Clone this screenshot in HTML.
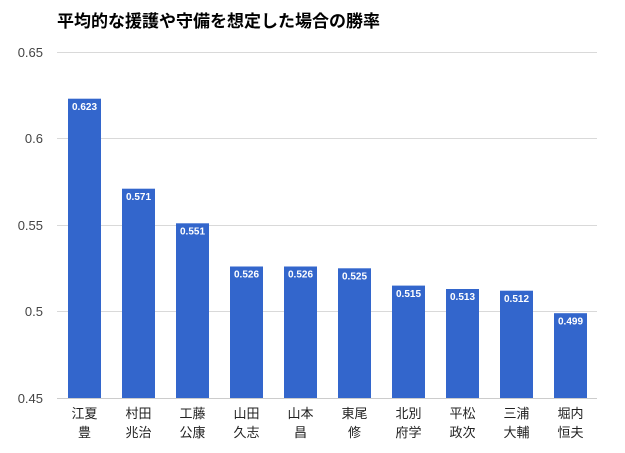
<!DOCTYPE html>
<html><head><meta charset="utf-8"><style>
body{margin:0;background:#fff;}
svg text{font-family:"Liberation Sans","Noto Sans CJK JP",sans-serif;}
</style></head><body>
<svg width="625" height="448" xmlns="http://www.w3.org/2000/svg">
<rect width="625" height="448" fill="#fff"/>
<text x="57" y="27" font-size="17" font-weight="bold" fill="#000">平均的な援護や守備を想定した場合の勝率</text>
<g stroke="#d9d9d9" stroke-width="1">
<line x1="57" x2="597" y1="52.5" y2="52.5"/>
<line x1="57" x2="597" y1="138.5" y2="138.5"/>
<line x1="57" x2="597" y1="225.5" y2="225.5"/>
<line x1="57" x2="597" y1="311.5" y2="311.5"/>
</g>
<g font-size="13" fill="#444" text-anchor="end">
<text x="43" y="57">0.65</text>
<text x="43" y="143">0.6</text>
<text x="43" y="230">0.55</text>
<text x="43" y="316">0.5</text>
<text x="43" y="403">0.45</text>
</g>
<g fill="#3366cc">
<rect x="68" y="98.7" width="33" height="299.3"/>
<rect x="122" y="188.7" width="33" height="209.3"/>
<rect x="176" y="223.3" width="33" height="174.7"/>
<rect x="230" y="266.5" width="33" height="131.5"/>
<rect x="284" y="266.5" width="33" height="131.5"/>
<rect x="338" y="268.3" width="33" height="129.7"/>
<rect x="392" y="285.6" width="33" height="112.4"/>
<rect x="446" y="289" width="33" height="109"/>
<rect x="500" y="290.7" width="33" height="107.3"/>
<rect x="554" y="313.2" width="33" height="84.8"/>
</g>
<g font-size="10" font-weight="bold" fill="#fff" text-anchor="middle">
<text x="84.5" y="110">0.623</text>
<text x="138.5" y="200">0.571</text>
<text x="192.5" y="234.5">0.551</text>
<text x="246.5" y="277.5">0.526</text>
<text x="300.5" y="277.5">0.526</text>
<text x="354.5" y="279.5">0.525</text>
<text x="408.5" y="297">0.515</text>
<text x="462.5" y="300">0.513</text>
<text x="516.5" y="302">0.512</text>
<text x="570.5" y="324.5">0.499</text>
</g>
<g font-size="13" fill="#222" text-anchor="middle">
<text x="84.5" y="418">江夏</text><text x="84.5" y="437">豊</text>
<text x="138.5" y="418">村田</text><text x="138.5" y="437">兆治</text>
<text x="192.5" y="418">工藤</text><text x="192.5" y="437">公康</text>
<text x="246.5" y="418">山田</text><text x="246.5" y="437">久志</text>
<text x="300.5" y="418">山本</text><text x="300.5" y="437">昌</text>
<text x="354.5" y="418">東尾</text><text x="354.5" y="437">修</text>
<text x="408.5" y="418">北別</text><text x="408.5" y="437">府学</text>
<text x="462.5" y="418">平松</text><text x="462.5" y="437">政次</text>
<text x="516.5" y="418">三浦</text><text x="516.5" y="437">大輔</text>
<text x="570.5" y="418">堀内</text><text x="570.5" y="437">恒夫</text>
</g>
<line x1="57" x2="597" y1="398.5" y2="398.5" stroke="#ccc"/>
</svg>
</body></html>
